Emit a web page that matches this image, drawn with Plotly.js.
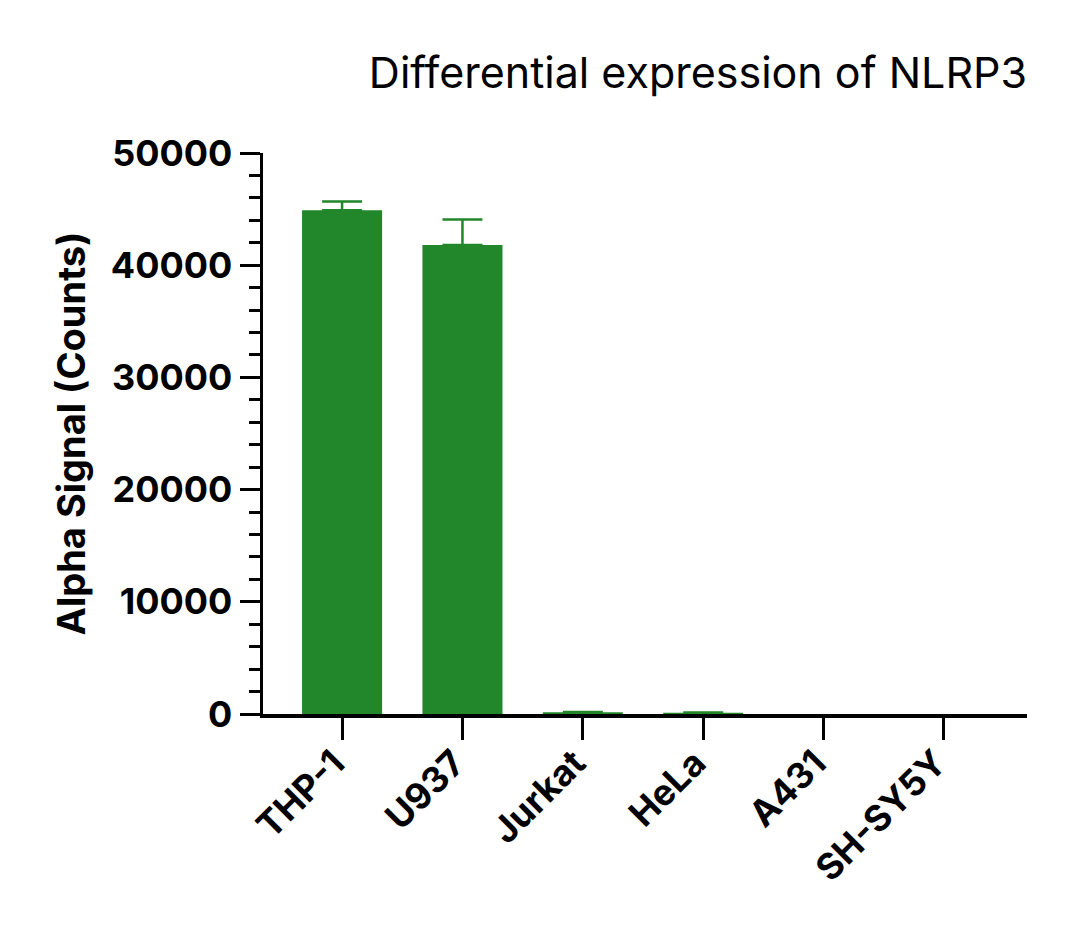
<!DOCTYPE html>
<html>
<head>
<meta charset="utf-8">
<script src="https://cdn.plot.ly/plotly-3.0.1.min.js"></script>
<style>
  html, body { margin: 0; padding: 0; background: #fff; }
  #chart { width: 1080px; height: 939px; }
</style>
</head>
<body>
<div id="chart"></div>
<script>
// cell lines and NLRP3 alpha signal
var cellLines = ['THP-1', 'U937', 'Jurkat', 'HeLa', 'A431', 'SH-SY5Y'];
var signal = [44900, 41800, 150, 120, 0, 0];
// no error bar is drawn for A431 / SH-SY5Y
var errUp = [770, 2280, 20, 20, NaN, NaN];
var errDown = [0, 0, 0, 0, NaN, NaN];
var yTicks = [0, 10000, 20000, 30000, 40000, 50000];

var green = '#22862B';
var tickFont = { family: 'Inter, "DejaVu Sans", sans-serif', size: 36, color: '#000', weight: 700 };

var trace = {
  type: 'bar',
  x: cellLines,
  y: signal,
  width: 0.665,
  marker: { color: green, line: { width: 0 } },
  error_y: {
    type: 'data',
    symmetric: false,
    array: errUp,
    arrayminus: errDown,
    color: green,
    thickness: 2.5,
    width: 20
  },
  hoverinfo: 'x+y'
};

var layout = {
  width: 1080,
  height: 939,
  paper_bgcolor: '#fff',
  plot_bgcolor: '#fff',
  margin: { l: 263, r: 53, t: 153, b: 225 },
  showlegend: false,
  title: {
    text: 'Differential expression of NLRP3',
    font: { family: 'Inter, "DejaVu Sans", sans-serif', size: 43, color: '#000', weight: 400 },
    x: 0.951, xanchor: 'right', xref: 'container',
    y: 0.922, yanchor: 'middle'
  },
  xaxis: {
    type: 'category',
    range: [-0.657, 5.69],
    showline: true, linecolor: '#000', linewidth: 3.5,
    ticks: 'outside', ticklen: 22, tickwidth: 3, tickcolor: '#000',
    tickangle: -45,
    ticklabelstandoff: -12,
    ticklabelshift: -8,
    tickfont: tickFont,
    showgrid: false, zeroline: false
  },
  yaxis: {
    range: [0, 50000],
    tickvals: yTicks,
    ticktext: yTicks.map(String),
    showline: true, linecolor: '#000', linewidth: 3.5,
    ticks: 'outside', ticklen: 20, tickwidth: 3, tickcolor: '#000',
    minor: { dtick: 2000, ticks: 'outside', ticklen: 11, tickwidth: 3, tickcolor: '#000' },
    tickfont: tickFont,
    showgrid: false, zeroline: false,
    title: {
      text: 'Alpha Signal (Counts)',
      font: { family: 'Inter, "DejaVu Sans", sans-serif', size: 38, color: '#000', weight: 700 },
      standoff: 14
    }
  }
};

Plotly.newPlot('chart', [trace], layout, { displayModeBar: false, staticPlot: true });
</script>
</body>
</html>
